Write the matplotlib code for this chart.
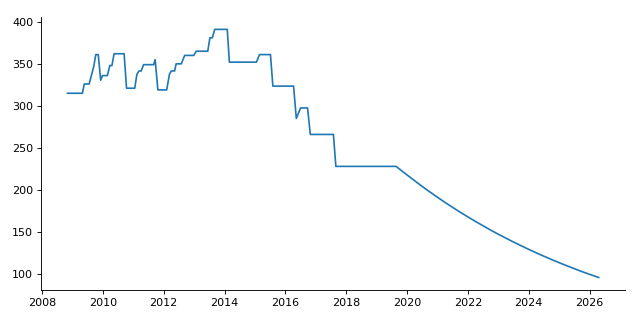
import matplotlib
matplotlib.use("Agg")
import matplotlib.pyplot as plt

# stepped history (decimal years)
hist_years = [2008.84, 2009.33, 2009.39, 2009.55, 2009.62, 2009.70, 2009.77, 2009.85,
              2009.93, 2009.99, 2010.15, 2010.23, 2010.30, 2010.37, 2010.70, 2010.78,
              2011.05, 2011.12, 2011.19, 2011.26, 2011.34, 2011.67, 2011.72, 2011.81,
              2012.10, 2012.19, 2012.25, 2012.36, 2012.41, 2012.58, 2012.69, 2012.99,
              2013.07, 2013.45, 2013.52, 2013.60, 2013.68, 2014.09, 2014.16, 2015.05,
              2015.15, 2015.51, 2015.59, 2016.27, 2016.36, 2016.50, 2016.73, 2016.82,
              2017.58, 2017.66, 2019.64]
hist_values = [315.5, 315.5, 326.5, 326.5, 336, 347, 361.5, 361.5,
               331, 336.5, 336.5, 348.5, 348.5, 362.5, 362.5, 321.5,
               321.5, 338, 342, 342, 349.5, 349.5, 355.5, 319.5,
               319.5, 338, 342, 342, 350.5, 350.5, 360.5, 360.5,
               365.5, 365.5, 381.5, 381.5, 391.5, 391.5, 352.5, 352.5,
               361.5, 361.5, 324, 324, 285.5, 298, 298, 266.5,
               266.5, 228.5, 228.5]

# smooth decline after 2019, quarterly reads
proj_years = [2020.0, 2020.25, 2020.5, 2020.75, 2021.0, 2021.25, 2021.5, 2021.75,
              2022.0, 2022.25, 2022.5, 2022.75, 2023.0, 2023.25, 2023.5, 2023.75,
              2024.0, 2024.25, 2024.5, 2024.75, 2025.0, 2025.25, 2025.5, 2025.75,
              2026.0, 2026.3]
proj_values = [218.3, 211.4, 204.6, 198.1, 191.8, 185.6, 179.7, 173.9,
               168.4, 163.0, 157.8, 152.7, 147.8, 143.1, 138.5, 134.1,
               129.8, 125.6, 121.6, 117.7, 113.9, 110.3, 106.8, 103.3,
               100.1, 96.3]

years = hist_years + proj_years
values = hist_values + proj_values

fig, ax = plt.subplots(figsize=(8, 4), dpi=80)
fig.subplots_adjust(left=0.064, right=0.977, bottom=0.094, top=0.947)
ax.plot(years, values)
ax.set_xticks(range(2008, 2027, 2))
ax.spines["top"].set_visible(False)
ax.spines["right"].set_visible(False)
fig.savefig("out.png", dpi=80)
